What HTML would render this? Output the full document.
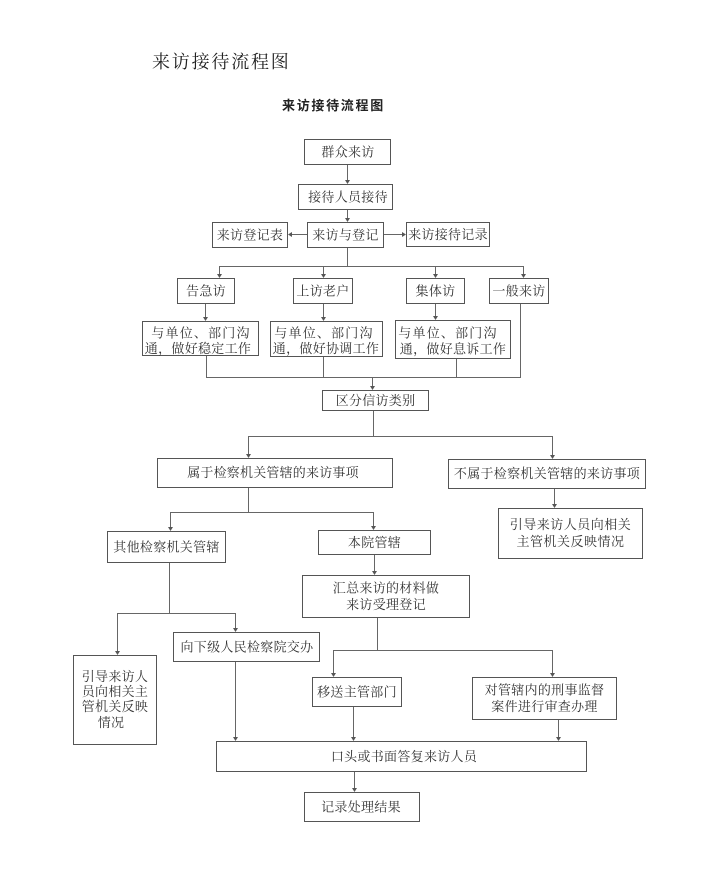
<!DOCTYPE html>
<html><head><meta charset="utf-8">
<style>
html,body{margin:0;padding:0;background:#fff;}
svg{display:block;}
text{font-family:"Liberation Serif","Noto Serif CJK SC","Noto Sans CJK SC",serif;fill:#333;font-size:13px;}
.b{fill:#fff;stroke:#555;stroke-width:1;}
.l{stroke:#666;stroke-width:1;fill:none;}
.a{fill:#555;}
</style></head>
<body>
<svg width="720" height="873" viewBox="0 0 720 873" xmlns="http://www.w3.org/2000/svg">
<rect width="720" height="873" fill="#fff"/>
<text x="152" y="68" style="font-size:18px;letter-spacing:1.8px;fill:#222">来访接待流程图</text>
<text x="282" y="110" style="font-family:'Liberation Sans','Noto Sans CJK SC',sans-serif;font-weight:bold;font-size:13px;letter-spacing:1.7px;fill:#222">来访接待流程图</text>

<!-- connectors -->
<g class="l">
<path d="M347.5 164V182"/>
<path d="M347.5 209V220"/>
<path d="M307 234.5H290"/>
<path d="M384 234.5H404"/>
<path d="M347.5 247V266.5"/>
<path d="M219 266.5H523"/>
<path d="M219.5 266V276"/><path d="M323.5 266V276"/><path d="M435.5 266V276"/><path d="M523.5 266V276"/>
<path d="M205.5 304V319"/><path d="M323.5 304V319"/><path d="M435.5 304V318"/>
<path d="M520.5 304V377.5"/>
<path d="M206 377.5H521"/>
<path d="M206.5 356V377"/><path d="M323.5 357V377"/><path d="M456.5 359V377"/>
<path d="M372.5 377V388"/>
<path d="M373.5 410V436.5"/>
<path d="M248 436.5H553"/>
<path d="M248.5 436V456"/><path d="M552.5 436V457"/>
<path d="M248.5 487V512.5"/>
<path d="M170 512.5H374"/>
<path d="M170.5 512V529"/><path d="M373.5 512V528"/>
<path d="M554.5 489V506"/>
<path d="M169.5 563V613.5"/>
<path d="M117 613.5H236"/>
<path d="M117.5 613V653"/><path d="M235.5 613V630"/>
<path d="M235.5 662V739"/>
<path d="M374.5 555V573"/>
<path d="M377.5 618V650.5"/>
<path d="M333 650.5H553"/>
<path d="M333.5 650V675"/><path d="M552.5 650V675"/>
<path d="M353.5 707V739"/>
<path d="M558.5 720V739"/>
<path d="M354.5 772V790"/>
</g>
<!-- arrowheads -->
<g class="a">
<path d="M345 180h5l-2.5 4z"/>
<path d="M345 218h5l-2.5 4z"/>
<path d="M292 232v5l-4 -2.5z"/>
<path d="M402 232v5l4 -2.5z"/>
<path d="M217 274h5l-2.5 4z"/><path d="M321 274h5l-2.5 4z"/><path d="M433 274h5l-2.5 4z"/><path d="M521 274h5l-2.5 4z"/>
<path d="M203 317h5l-2.5 4z"/><path d="M321 317h5l-2.5 4z"/><path d="M433 316h5l-2.5 4z"/>
<path d="M370 386h5l-2.5 4z"/>
<path d="M246 454h5l-2.5 4z"/><path d="M550 455h5l-2.5 4z"/>
<path d="M168 527h5l-2.5 4z"/><path d="M371 526h5l-2.5 4z"/>
<path d="M552 504h5l-2.5 4z"/>
<path d="M115 651h5l-2.5 4z"/><path d="M233 628h5l-2.5 4z"/>
<path d="M233 737h5l-2.5 4z"/>
<path d="M372 571h5l-2.5 4z"/>
<path d="M331 673h5l-2.5 4z"/><path d="M550 673h5l-2.5 4z"/>
<path d="M351 737h5l-2.5 4z"/><path d="M556 737h5l-2.5 4z"/>
<path d="M352 788h5l-2.5 4z"/>
</g>

<!-- boxes -->
<rect class="b" x="304.5" y="139.5" width="86" height="25"/>
<text x="348" y="156.5" text-anchor="middle" style="letter-spacing:0.3px">群众来访</text>
<rect class="b" x="298.5" y="184.5" width="94" height="25"/>
<text x="348" y="201.5" text-anchor="middle" style="letter-spacing:0.3px">接待人员接待</text>
<rect class="b" x="212.5" y="222.5" width="75" height="25"/>
<text x="250" y="239.5" text-anchor="middle" style="letter-spacing:0.3px">来访登记表</text>
<rect class="b" x="307.5" y="222.5" width="76" height="25"/>
<text x="345.5" y="239.5" text-anchor="middle" style="letter-spacing:0.3px">来访与登记</text>
<rect class="b" x="406.5" y="222.5" width="83" height="24"/>
<text x="448" y="239" text-anchor="middle" style="letter-spacing:0.3px">来访接待记录</text>

<rect class="b" x="177.5" y="278.5" width="57" height="25"/>
<text x="206" y="295.5" text-anchor="middle" style="letter-spacing:0.3px">告急访</text>
<rect class="b" x="293.5" y="278.5" width="59" height="25"/>
<text x="323" y="295.5" text-anchor="middle" style="letter-spacing:0.3px">上访老户</text>
<rect class="b" x="406.5" y="278.5" width="58" height="25"/>
<text x="435.5" y="295.5" text-anchor="middle" style="letter-spacing:0.3px">集体访</text>
<rect class="b" x="489.5" y="278.5" width="59" height="25"/>
<text x="519" y="295.5" text-anchor="middle" style="letter-spacing:0.3px">一般来访</text>

<rect class="b" x="142.5" y="321.5" width="116" height="34"/>
<text x="201" y="337.5" text-anchor="middle" style="letter-spacing:1.2px">与单位、部门沟</text>
<text x="198" y="353" text-anchor="middle" style="letter-spacing:0.3px">通，做好稳定工作</text>
<rect class="b" x="270.5" y="321.5" width="112" height="35"/>
<text x="324" y="337.5" text-anchor="middle" style="letter-spacing:1.2px">与单位、部门沟</text>
<text x="326" y="353" text-anchor="middle" style="letter-spacing:0.3px">通，做好协调工作</text>
<rect class="b" x="395.5" y="320.5" width="115" height="38"/>
<text x="448" y="337.5" text-anchor="middle" style="letter-spacing:1.2px">与单位、部门沟</text>
<text x="453" y="353.5" text-anchor="middle" style="letter-spacing:0.3px">通，做好息诉工作</text>

<rect class="b" x="322.5" y="390.5" width="106" height="20"/>
<text x="375.5" y="405" text-anchor="middle" style="letter-spacing:0.3px">区分信访类别</text>

<rect class="b" x="157.5" y="458.5" width="235" height="29"/>
<text x="273" y="477" text-anchor="middle" style="letter-spacing:0.2px">属于检察机关管辖的来访事项</text>
<rect class="b" x="448.5" y="459.5" width="197" height="29"/>
<text x="547" y="478" text-anchor="middle" style="letter-spacing:0.3px">不属于检察机关管辖的来访事项</text>

<rect class="b" x="107.5" y="531.5" width="118" height="31"/>
<text x="166.5" y="551.5" text-anchor="middle" style="letter-spacing:0.3px">其他检察机关管辖</text>
<rect class="b" x="318.5" y="530.5" width="112" height="24"/>
<text x="374.5" y="547" text-anchor="middle" style="letter-spacing:0.3px">本院管辖</text>
<rect class="b" x="498.5" y="508.5" width="144" height="50"/>
<text x="570.5" y="529" text-anchor="middle" style="letter-spacing:0.5px">引导来访人员向相关</text>
<text x="570.5" y="546" text-anchor="middle" style="letter-spacing:0.5px">主管机关反映情况</text>

<rect class="b" x="302.5" y="575.5" width="167" height="42"/>
<text x="386" y="592.5" text-anchor="middle" style="letter-spacing:0.3px">汇总来访的材料做</text>
<text x="386" y="609" text-anchor="middle" style="letter-spacing:0.3px">来访受理登记</text>

<rect class="b" x="73.5" y="655.5" width="83" height="89"/>
<text x="115" y="681" text-anchor="middle" style="letter-spacing:0.3px">引导来访人</text>
<text x="115" y="696" text-anchor="middle" style="letter-spacing:0.3px">员向相关主</text>
<text x="115" y="711" text-anchor="middle" style="letter-spacing:0.3px">管机关反映</text>
<text x="111" y="727" text-anchor="middle" style="letter-spacing:0.3px">情况</text>

<rect class="b" x="173.5" y="632.5" width="146" height="29"/>
<text x="247" y="651.5" text-anchor="middle" style="letter-spacing:0.3px">向下级人民检察院交办</text>

<rect class="b" x="312.5" y="677.5" width="89" height="29"/>
<text x="357" y="696.5" text-anchor="middle" style="letter-spacing:0.3px">移送主管部门</text>
<rect class="b" x="472.5" y="677.5" width="144" height="42"/>
<text x="544.5" y="694.5" text-anchor="middle" style="letter-spacing:0.3px">对管辖内的刑事监督</text>
<text x="544.5" y="711" text-anchor="middle" style="letter-spacing:0.3px">案件进行审查办理</text>

<rect class="b" x="216.5" y="741.5" width="370" height="30"/>
<text x="404" y="761" text-anchor="middle" style="letter-spacing:0.3px">口头或书面答复来访人员</text>
<rect class="b" x="304.5" y="792.5" width="115" height="29"/>
<text x="361" y="811.5" text-anchor="middle" style="letter-spacing:0.3px">记录处理结果</text>
</svg>
</body></html>
